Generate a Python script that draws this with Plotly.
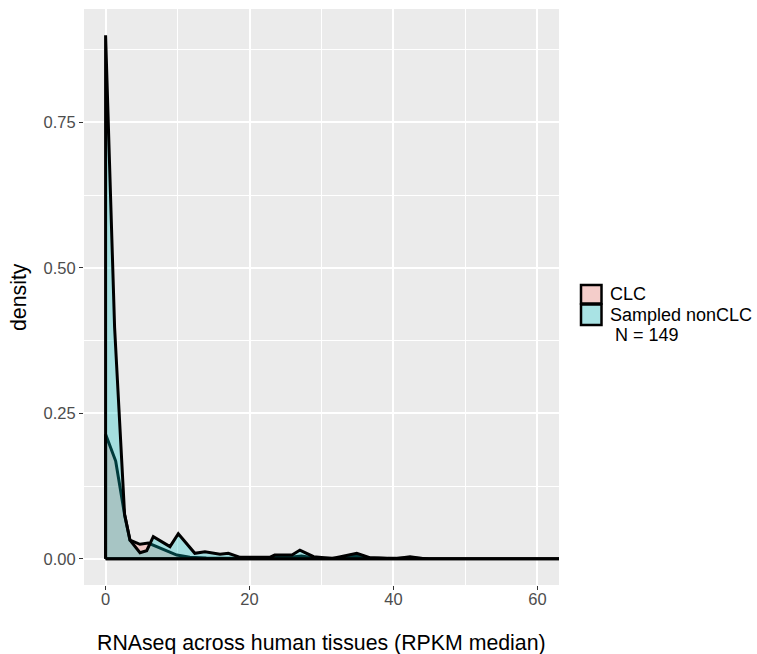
import plotly.graph_objects as go

# ---- data ----
clc_x = [0, 0, 1.40, 2.64, 3.39, 4.78, 5.93, 7.1, 9.9, 11.7, 14.0, 18.0, 21.0, 23.5,
         26.0, 27.2, 29.0, 32.0, 34.5, 36.5, 39.0, 42.5, 45.0, 66]
clc_y = [0, 0.214, 0.168, 0.076, 0.032, 0.025, 0.027, 0.021, 0.0065, 0.0026, 0.0012,
         0.0008, 0.0015, 0.003, 0.003, 0.005, 0.0015, 0.0008, 0.005, 0.002, 0.0006,
         0.0015, 0.0003, 0]

non_x = [0, 0, 1.25, 2.64, 3.39, 4.78, 5.71, 6.63, 8.95, 10.1, 12.4, 13.8, 15.9, 17.05,
         18.7, 22.8, 23.5, 25.9, 27.0, 28.9, 31.5, 34.0, 34.9, 36.7, 40.5, 42.3, 44.0, 66]
non_y = [0, 0.900, 0.398, 0.076, 0.032, 0.0105, 0.014, 0.038, 0.021, 0.043, 0.0095,
         0.012, 0.0077, 0.0095, 0.0026, 0.0026, 0.0065, 0.0065, 0.015, 0.0036, 0.0005,
         0.0077, 0.0095, 0.002, 0.0005, 0.0036, 0.0005, 0]

series_names = ["CLC", "Sampled nonCLC"]
n_label = "N = 149"
x_ticks = [0, 20, 40, 60]
y_ticks = [0, 0.25, 0.50, 0.75]
y_ticklabels = ["0.00", "0.25", "0.50", "0.75"]
x_title = "RNAseq across human tissues (RPKM median)"
y_title = "density"

FONT = "Liberation Sans, Arial, Helvetica, sans-serif"
W, H = 757, 654
L, R, T, B = 84, 559, 9, 585  # plot area in pixels


def px_x(p):
    return (p - L) / (R - L)


def px_y(p):
    return (B - p) / (B - T)


fig = go.Figure()
fills = ["rgba(248,118,109,0.3)", "rgba(0,191,196,0.3)"]
for xs, ys, fc, nm in [(clc_x, clc_y, fills[0], series_names[0]),
                       (non_x, non_y, fills[1], series_names[1])]:
    fig.add_trace(go.Scatter(
        x=xs + [xs[0]], y=ys + [ys[0]], mode="lines", fill="toself",
        fillcolor=fc, line=dict(color="black", width=3), name=nm,
        showlegend=False, hoverinfo="skip"))

fig.update_layout(
    width=W, height=H,
    margin=dict(l=L, r=W - R, t=T, b=H - B, pad=0),
    paper_bgcolor="white", plot_bgcolor="#EBEBEB",
    font=dict(family=FONT, color="black"),
    xaxis=dict(range=[-3, 63], tickvals=x_ticks, showgrid=True, gridcolor="white",
               gridwidth=2, zeroline=False, showline=False, ticks="outside",
               ticklen=4, tickwidth=1, tickcolor="#333333", ticklabelstandoff=-5,
               tickfont=dict(size=16.5, color="#4D4D4D", family=FONT),
               minor=dict(tickvals=[10, 30, 50], showgrid=True, gridcolor="white",
                          gridwidth=1, ticks="")),
    yaxis=dict(range=[-0.045, 0.945], tickvals=y_ticks, ticktext=y_ticklabels,
               showgrid=True, gridcolor="white", gridwidth=2, zeroline=False,
               showline=False, ticks="outside", ticklen=4, tickwidth=1,
               tickcolor="#333333",
               tickfont=dict(size=16.5, color="#4D4D4D", family=FONT),
               minor=dict(tickvals=[0.125, 0.375, 0.625, 0.875], showgrid=True,
                          gridcolor="white", gridwidth=1, ticks="")),
    showlegend=False,
)

# axis titles
fig.add_annotation(text=x_title, xref="paper", yref="paper", x=0.5, y=px_y(656),
                   xanchor="center", yanchor="bottom", showarrow=False, borderpad=0,
                   font=dict(size=21.3, color="black", family=FONT))
fig.add_annotation(text=y_title, xref="paper", yref="paper", x=px_x(19), y=0.5,
                   xanchor="center", yanchor="middle", textangle=-90, showarrow=False,
                   font=dict(size=21.3, color="black", family=FONT))

# legend (ggplot-style keys)
key_fill = ["#F4CDCA", "#A9E3E4"]
key_y = [(285, 303.5), (304.5, 325)]
for (y0, y1), fc in zip(key_y, key_fill):
    fig.add_shape(type="rect", xref="paper", yref="paper",
                  x0=px_x(581), x1=px_x(601.5), y0=px_y(y1), y1=px_y(y0),
                  fillcolor=fc, line=dict(color="black", width=2.5))
for txt, xp, yp in [(series_names[0], 608, 294), (series_names[1], 608, 315),
                    (n_label, 613, 335)]:
    fig.add_annotation(text=txt, xref="paper", yref="paper", x=px_x(xp), y=px_y(yp),
                       xanchor="left", yanchor="middle", showarrow=False,
                       font=dict(size=18, color="black", family=FONT))

fig.write_html("out.html")
